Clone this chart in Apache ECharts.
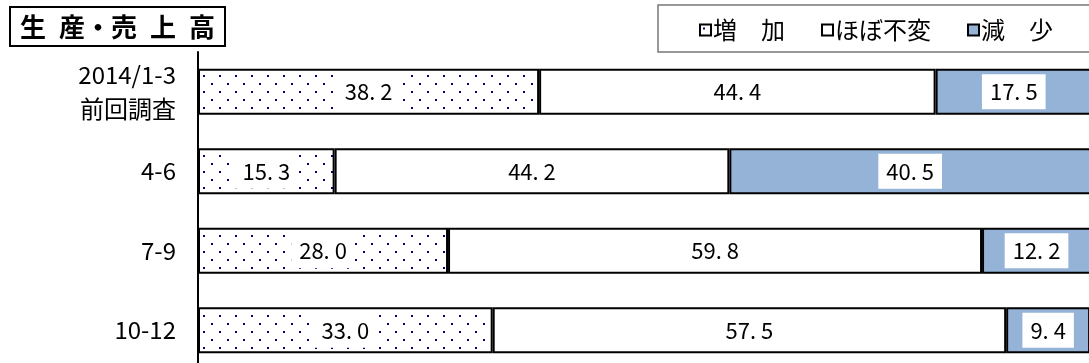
<!DOCTYPE html>
<html>
<head>
<meta charset="utf-8">
<script src="https://cdn.jsdelivr.net/npm/echarts@6/dist/echarts.min.js"></script>
<style>
  html, body { margin: 0; padding: 0; background: #fff; }
  #chart { width: 1089px; height: 363px; }
</style>
</head>
<body>
<div id="chart"></div>
<script>
var categories = ['2014/1-3\n前回調査', '4-6', '7-9', '10-12']
var seriesNames = ['増　加', 'ほぼ不変', '減　少']
var increase = [38.2, 15.3, 28.0, 33.0]
var unchanged = [44.4, 44.2, 59.8, 57.5]
var decrease = [17.5, 40.5, 12.2, 9.4]

// dotted fill for 増加
function dotPattern() {
  var c = document.createElement('canvas')
  c.width = 16
  c.height = 16
  var ctx = c.getContext('2d')
  ctx.fillStyle = '#fff'
  ctx.fillRect(0, 0, 16, 16)
  ctx.fillStyle = '#000080'
  ctx.fillRect(3, 3, 2, 2)
  ctx.fillRect(11, 11, 2, 2)
  return c
}

var font = '"Noto Sans CJK JP", sans-serif'
var chart = echarts.init(document.getElementById('chart'))

var labelStyle = {
  show: true,
  position: 'inside',
  color: '#000',
  fontSize: 22,
  fontFamily: font,
  backgroundColor: '#fff',
  padding: [8, 8, 5, 8],
  formatter: function(p) { return p.value.toFixed(1).replace('.', '. ') }
}

function makeSeries(name, data, fill) {
  return {
    name: name,
    type: 'bar',
    stack: 'total',
    barWidth: 46,
    data: data,
    itemStyle: { color: fill, borderColor: '#000', borderWidth: 2 },
    label: labelStyle
  }
}

chart.setOption({
  animation: false,
  textStyle: { fontFamily: font },
  title: {
    text: '生\u2002産・売\u2002上\u2002高',
    left: 10,
    top: 7,
    padding: [7, 10, 6, 10],
    borderColor: '#000',
    borderWidth: 2,
    textStyle: { fontSize: 26, fontWeight: 'bold', color: '#000', fontFamily: font }
  },
  graphic: [{
    type: 'rect',
    shape: { x: 658, y: 5, width: 440, height: 47 },
    style: { fill: '#fff', stroke: '#777', lineWidth: 1.5 },
    z: -1
  }],
  legend: {
    left: 694,
    top: 13,
    itemWidth: 11,
    itemHeight: 11,
    itemGap: 36,
    icon: 'rect',
    textStyle: { fontSize: 24, color: '#000', fontFamily: font, padding: [0, 0, 0, -3] },
    data: seriesNames
  },
  grid: { left: 198, top: 52, width: 893, height: 318, containLabel: false, outerBoundsMode: 'none' },
  xAxis: {
    type: 'value',
    min: 0,
    max: 100,
    show: false
  },
  yAxis: {
    type: 'category',
    inverse: true,
    data: categories,
    axisLine: { show: true, lineStyle: { color: '#000', width: 2 } },
    axisTick: { show: false },
    axisLabel: {
      margin: 22,
      fontSize: 24,
      lineHeight: 34,
      color: '#000',
      fontFamily: font,
      align: 'right'
    }
  },
  series: [
    makeSeries(seriesNames[0], increase, { image: dotPattern(), repeat: 'repeat' }),
    makeSeries(seriesNames[1], unchanged, '#fff'),
    makeSeries(seriesNames[2], decrease, '#95B3D7')
  ]
})
</script>
</body>
</html>
